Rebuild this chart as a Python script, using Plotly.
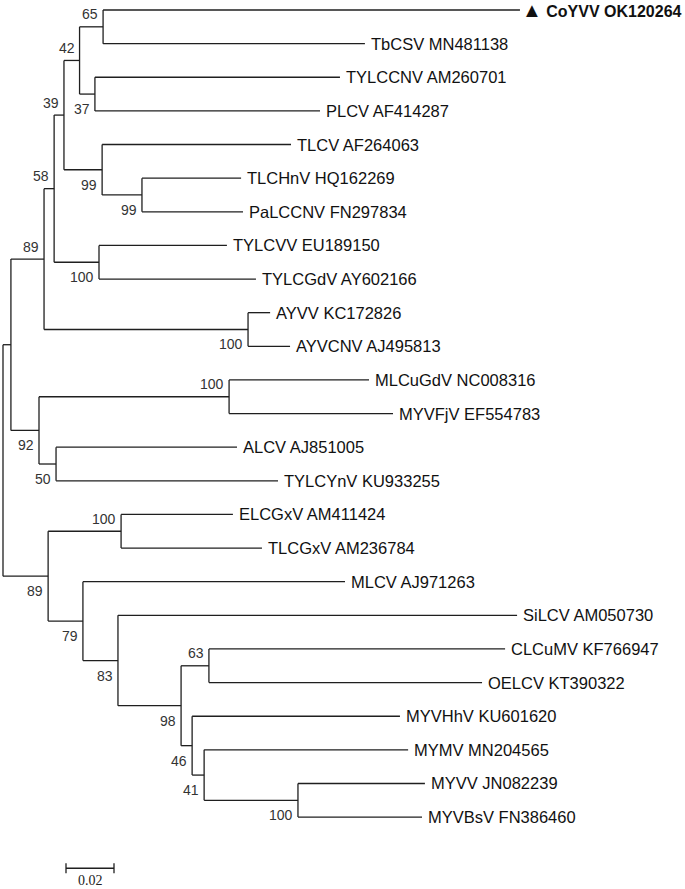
import plotly.graph_objects as go

# ---------------- data ----------------
leaf_names = [
    "CoYVV OK120264", "TbCSV MN481138", "TYLCCNV AM260701", "PLCV AF414287",
    "TLCV AF264063", "TLCHnV HQ162269", "PaLCCNV FN297834", "TYLCVV EU189150",
    "TYLCGdV AY602166", "AYVV KC172826", "AYVCNV AJ495813", "MLCuGdV NC008316",
    "MYVFjV EF554783", "ALCV AJ851005", "TYLCYnV KU933255", "ELCGxV AM411424",
    "TLCGxV AM236784", "MLCV AJ971263", "SiLCV AM050730", "CLCuMV KF766947",
    "OELCV KT390322", "MYVHhV KU601620", "MYMV MN204565", "MYVV JN082239",
    "MYVBsV FN386460",
]
# distance of each leaf tip from the root (substitutions/site)
leaf_depth = [
    0.2154, 0.1508, 0.1404, 0.1321, 0.1200, 0.0992, 0.1000, 0.0933,
    0.1054, 0.1113, 0.1196, 0.1525, 0.1625, 0.0975, 0.1146, 0.0958,
    0.1079, 0.1425, 0.2142, 0.2092, 0.1996, 0.1654, 0.1688, 0.1758,
    0.1746,
]
query_leaf = "CoYVV OK120264"

node_ids = ["root", "nTop", "nA", "nB", "nC", "nD", "nE", "nF", "nG", "nH",
            "nI", "nJ", "nK", "nL", "nM", "nLow", "nN", "nO", "nP", "nQ",
            "nR", "nS", "nT", "nU"]
node_children = [
    ["nTop", "nLow"],
    ["nA", "nK"],
    ["nB", "nJ"],
    ["nC", "nI"],
    ["nD", "nG"],
    ["nE", "nF"],
    ["CoYVV OK120264", "TbCSV MN481138"],
    ["TYLCCNV AM260701", "PLCV AF414287"],
    ["TLCV AF264063", "nH"],
    ["TLCHnV HQ162269", "PaLCCNV FN297834"],
    ["TYLCVV EU189150", "TYLCGdV AY602166"],
    ["AYVV KC172826", "AYVCNV AJ495813"],
    ["nL", "nM"],
    ["MLCuGdV NC008316", "MYVFjV EF554783"],
    ["ALCV AJ851005", "TYLCYnV KU933255"],
    ["nN", "nO"],
    ["ELCGxV AM411424", "TLCGxV AM236784"],
    ["MLCV AJ971263", "nP"],
    ["SiLCV AM050730", "nQ"],
    ["nR", "nS"],
    ["CLCuMV KF766947", "OELCV KT390322"],
    ["MYVHhV KU601620", "nT"],
    ["MYMV MN204565", "nU"],
    ["MYVV JN082239", "MYVBsV FN386460"],
]
node_depth = [0.0, 0.0033, 0.0171, 0.0213, 0.0254, 0.0319, 0.0417, 0.0383,
              0.0413, 0.0579, 0.0400, 0.1021, 0.0150, 0.0942, 0.0221, 0.0188,
              0.0492, 0.0333, 0.0479, 0.0742, 0.0858, 0.0788, 0.0838, 0.1229]
node_support = [None, None, 89, 58, 39, 42, 65, 37, 99, 99, 100, 100, 92,
                100, 50, 89, 100, 79, 83, 98, 63, 46, 41, 100]

scale_bar_value = 0.02
scale_bar_label = "0.02"

# ---------------- layout constants ----------------
W, H = 685, 889
PX_PER_UNIT = 2400.0      # horizontal pixels per unit of distance
ROOT_PX = 3.0             # pixel x of the root
TOP_PX = 10.0             # pixel y of first leaf
ROW_PX = 33.63            # pixel spacing between leaves
SCALE_BAR_X0 = 0.02625    # left end of scale bar (distance units)
SCALE_BAR_ROW = 25.52     # scale bar row position

# ---------------- build geometry ----------------
depth = {}
ypos = {}
for i, (n, d) in enumerate(zip(leaf_names, leaf_depth)):
    depth[n] = d
    ypos[n] = i
children = {}
for nid, ch, d in zip(node_ids, node_children, node_depth):
    depth[nid] = d
    children[nid] = ch
support = dict(zip(node_ids, node_support))
parent = {}
for nid, ch in children.items():
    for c in ch:
        parent[c] = nid


def get_y(n):
    if n in ypos:
        return ypos[n]
    ys = [get_y(c) for c in children[n]]
    ypos[n] = (ys[0] + ys[-1]) / 2.0
    return ypos[n]


get_y("root")

xs, ys = [], []
for nid in node_ids:
    ch = children[nid]
    x = depth[nid]
    xs += [x, x, None]
    ys += [ypos[ch[0]], ypos[ch[-1]], None]
    for c in ch:
        xs += [x, depth[c], None]
        ys += [ypos[c], ypos[c], None]

fig = go.Figure()
fig.add_trace(go.Scatter(x=xs, y=ys, mode="lines",
                         line=dict(color="#1f1f1f", width=1.3),
                         hoverinfo="skip", showlegend=False))

annotations = []
LABEL_FONT = dict(family="Liberation Sans, Arial, sans-serif", size=16.5, color="#111111")
for n in leaf_names:
    if n == query_leaf:
        annotations.append(dict(
            x=depth[n], y=ypos[n], xref="x", yref="y",
            text="<span style='font-size:20px'>\u25B2</span> <b>" + n + "</b>",
            showarrow=False,
            xanchor="left", yanchor="middle", xshift=0,
            font=dict(family="Liberation Sans, Arial, sans-serif", size=16, color="#111111")))
    else:
        annotations.append(dict(
            x=depth[n], y=ypos[n], xref="x", yref="y",
            text=n, showarrow=False,
            xanchor="left", yanchor="middle", xshift=4,
            font=LABEL_FONT))

SUP_FONT = dict(family="Liberation Sans, Arial, sans-serif", size=14, color="#333333")
for nid in node_ids:
    s = support[nid]
    if s is None:
        continue
    par = parent[nid]
    upper = children[par][0] == nid
    annotations.append(dict(
        x=depth[nid], y=ypos[nid], xref="x", yref="y",
        text=str(s), showarrow=False,
        xanchor="right", yanchor="middle",
        xshift=-3, yshift=(12.5 if upper else -15),
        font=SUP_FONT))

# scale bar
sb_x1 = SCALE_BAR_X0 + scale_bar_value
tick_half = 5.0 / ROW_PX
shapes = [
    dict(type="line", xref="x", yref="y", x0=SCALE_BAR_X0, x1=sb_x1,
         y0=SCALE_BAR_ROW, y1=SCALE_BAR_ROW, line=dict(color="#1f1f1f", width=1.3)),
    dict(type="line", xref="x", yref="y", x0=SCALE_BAR_X0, x1=SCALE_BAR_X0,
         y0=SCALE_BAR_ROW - tick_half, y1=SCALE_BAR_ROW + tick_half,
         line=dict(color="#1f1f1f", width=1.3)),
    dict(type="line", xref="x", yref="y", x0=sb_x1, x1=sb_x1,
         y0=SCALE_BAR_ROW - tick_half, y1=SCALE_BAR_ROW + tick_half,
         line=dict(color="#1f1f1f", width=1.3)),
]
annotations.append(dict(
    x=(SCALE_BAR_X0 + sb_x1) / 2, y=SCALE_BAR_ROW, xref="x", yref="y",
    text=scale_bar_label, showarrow=False, xanchor="center", yanchor="middle",
    yshift=-12, borderpad=0,
    font=dict(family="Liberation Serif, Times New Roman, serif", size=14, color="#222222")))

x_min = -ROOT_PX / PX_PER_UNIT
x_max = (W - ROOT_PX) / PX_PER_UNIT
y_top = -TOP_PX / ROW_PX
y_bot = (H - TOP_PX) / ROW_PX

fig.update_layout(
    width=W, height=H,
    margin=dict(l=0, r=0, t=0, b=0),
    paper_bgcolor="white", plot_bgcolor="white",
    xaxis=dict(range=[x_min, x_max], visible=False, fixedrange=True),
    yaxis=dict(range=[y_bot, y_top], visible=False, fixedrange=True),
    annotations=annotations, shapes=shapes,
    showlegend=False,
)

fig.write_html(
    "out.html",
    config={"displayModeBar": False},
    post_script="document.body.style.margin='0';document.body.style.padding='0';"
                "document.body.style.overflow='hidden';",
)
